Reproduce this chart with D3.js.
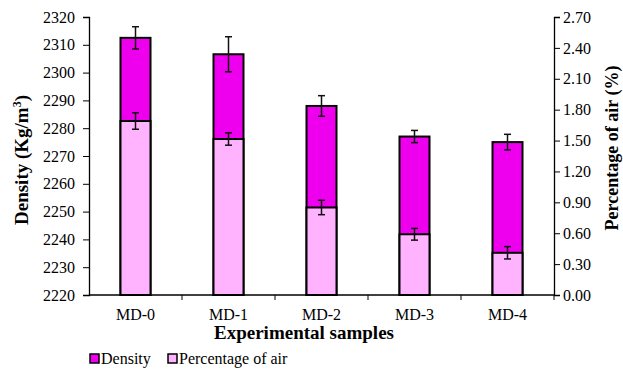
<!DOCTYPE html>
<html>
<head>
<meta charset="utf-8">
<script src="https://cdn.jsdelivr.net/npm/d3@7"></script>
<style>
  body { margin: 0; background: #fff; }
  text { font-family: "Liberation Serif", "Times New Roman", serif; fill: #000; }
</style>
</head>
<body>
<svg id="chart" width="623" height="369"></svg>
<script>
const samples = ["MD-0", "MD-1", "MD-2", "MD-3", "MD-4"];
const density = [2312.5, 2306.6, 2288, 2277, 2275];
const densityErr = [4, 6.3, 3.7, 2.2, 2.8];
const air = [1.69, 1.515, 0.85, 0.59, 0.41];
const airErr = [0.08, 0.06, 0.07, 0.057, 0.06];
const leftTicks = d3.range(2220, 2321, 10);
const rightTicks = d3.range(0, 2.71, 0.3);

const m = { l: 89, r: 554, t: 17, b: 295 };
const col = { density: "#ee00ee", air: "#ffb3ff" };

const svg = d3.select("#chart");

const x = d3.scaleBand().domain(samples).range([m.l, m.r]);
const yL = d3.scaleLinear().domain([2220, 2320]).range([m.b, m.t]);
const yR = d3.scaleLinear().domain([0, 2.7]).range([m.b, m.t]);
const bw = 30;

// density bars (left axis)
svg.append("g").selectAll("rect").data(samples).join("rect")
  .attr("x", d => x(d) + x.bandwidth() / 2 - bw / 2)
  .attr("width", bw)
  .attr("y", (d, i) => yL(density[i]))
  .attr("height", (d, i) => m.b - yL(density[i]))
  .attr("fill", col.density).attr("stroke", "#000").attr("stroke-width", 2);

// air bars (right axis) on top
svg.append("g").selectAll("rect").data(samples).join("rect")
  .attr("x", d => x(d) + x.bandwidth() / 2 - bw / 2)
  .attr("width", bw)
  .attr("y", (d, i) => yR(air[i]))
  .attr("height", (d, i) => m.b - yR(air[i]))
  .attr("fill", col.air).attr("stroke", "#000").attr("stroke-width", 2);

function errBars(vals, errs, y) {
  const g = svg.append("g").attr("stroke", "#111").attr("stroke-width", 1.5);
  samples.forEach((s, i) => {
    const cx = x(s) + x.bandwidth() / 2;
    const y1 = y(vals[i] + errs[i]), y2 = y(vals[i] - errs[i]);
    g.append("line").attr("x1", cx).attr("x2", cx).attr("y1", y1).attr("y2", y2);
    g.append("line").attr("x1", cx - 3.5).attr("x2", cx + 3.5).attr("y1", y1).attr("y2", y1);
    g.append("line").attr("x1", cx - 3.5).attr("x2", cx + 3.5).attr("y1", y2).attr("y2", y2);
  });
}
errBars(density, densityErr, yL);
errBars(air, airErr, yR);

// axes
const axL = svg.append("g").attr("transform", `translate(${m.l},0)`)
  .call(d3.axisLeft(yL).tickValues(leftTicks).tickFormat(d3.format("d")).tickSize(6).tickPadding(8));
const axR = svg.append("g").attr("transform", `translate(${m.r},0)`)
  .call(d3.axisRight(yR).tickValues(rightTicks).tickFormat(d3.format(".2f")).tickSize(6).tickPadding(3));
const axB = svg.append("g").attr("transform", `translate(0,${m.b})`)
  .call(d3.axisBottom(x).tickSize(0).tickPadding(13.6));
// band boundary ticks
svg.append("g").selectAll("line").data(samples).join("line")
  .attr("x1", (d, i) => m.l + x.step() * (i + 1))
  .attr("x2", (d, i) => m.l + x.step() * (i + 1))
  .attr("y1", m.b).attr("y2", m.b + 5)
  .attr("stroke", "#000").attr("stroke-width", 1);

[axL, axR, axB].forEach(a => {
  a.select(".domain").attr("stroke", "#000").attr("stroke-width", 1.3);
  a.selectAll(".tick line").attr("stroke", "#000");
  a.selectAll("text").style("font-family", "Liberation Serif").style("font-size", "16px").attr("fill", "#000");
});
axB.select(".domain").attr("d", `M${m.l},0H${m.r + 1}`);

// titles
svg.append("text").attr("x", 304).attr("y", 339).attr("text-anchor", "middle")
  .style("font-size", "19px").style("font-weight", "bold").text("Experimental samples");

const tl = svg.append("text").attr("transform", "translate(28,160) rotate(-90)")
  .attr("text-anchor", "middle").style("font-size", "19px").style("font-weight", "bold");
tl.append("tspan").text("Density (Kg/m");
tl.append("tspan").attr("baseline-shift", "super").style("font-size", "12px").text("3");
tl.append("tspan").text(")");

svg.append("text").attr("transform", "translate(618,148) rotate(-90)")
  .attr("text-anchor", "middle").style("font-size", "18px").style("font-weight", "bold")
  .text("Percentage of air (%)");

// legend
const legend = [["Density", col.density, 90], ["Percentage of air", col.air, 168]];
const lg = svg.append("g");
legend.forEach(([name, c, lx]) => {
  lg.append("rect").attr("x", lx).attr("y", 354).attr("width", 9).attr("height", 9)
    .attr("fill", c).attr("stroke", "#000").attr("stroke-width", 1.5);
  lg.append("text").attr("x", lx + 11).attr("y", 364).style("font-size", "16px").text(name);
});
</script>
</body>
</html>
